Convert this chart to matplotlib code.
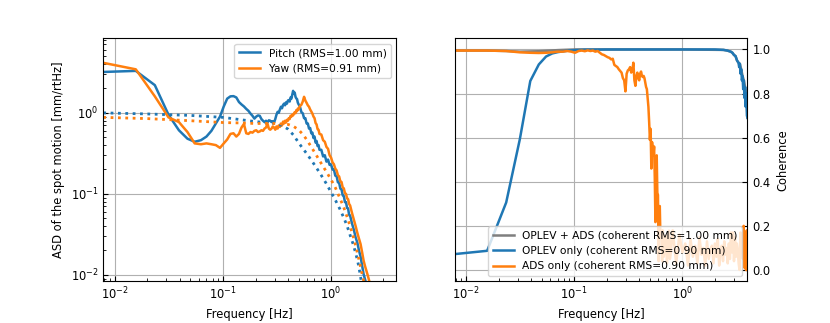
import matplotlib
matplotlib.use("Agg")
import matplotlib.pyplot as plt

# --- ASD of the spot motion (left panel) ---
freq_asd = [0.0078, 0.0156, 0.0234, 0.0313, 0.0391, 0.0469, 0.0547, 0.0625, 0.0703, 0.0781, 0.0859, 0.0938,
            0.1016, 0.1094, 0.1172, 0.125, 0.1328, 0.1406, 0.1484, 0.1563, 0.1641, 0.1719, 0.1797, 0.1875,
            0.1953, 0.2031, 0.2109, 0.2188, 0.2266, 0.2344, 0.2422, 0.25,
            0.2578, 0.2656, 0.2734, 0.2813, 0.2891, 0.2969, 0.3047, 0.3125, 0.3203, 0.3281, 0.3359, 0.3438,
            0.3516, 0.3594, 0.3672, 0.375,
            0.3828, 0.3906, 0.3984, 0.4063, 0.4141, 0.4219, 0.4297, 0.4375, 0.4453, 0.4531, 0.4609, 0.4688,
            0.4766, 0.4844, 0.4922, 0.5,
            0.5156, 0.5313, 0.5469, 0.5625, 0.5781, 0.5938, 0.6094, 0.625, 0.6406, 0.6563, 0.6719, 0.6875,
            0.7031, 0.7188, 0.7344, 0.75,
            0.7656, 0.7813, 0.8125, 0.8438, 0.875, 0.9063, 0.9375, 0.9688, 1.0, 1.0313, 1.0625, 1.0938,
            1.125, 1.1563, 1.1875, 1.2188,
            1.25, 1.2813, 1.3125, 1.3438, 1.375, 1.4063, 1.4375, 1.4688, 1.5, 1.5625, 1.625, 1.6875,
            1.75, 1.8125, 1.875, 1.9375,
            2.0, 2.0625, 2.125, 2.1875, 2.25, 2.3125]

pitch_asd = [3.2, 3.3, 2.2, 0.95, 0.61, 0.48, 0.44, 0.46, 0.51, 0.60, 0.74, 0.90,
             1.20, 1.50, 1.60, 1.61, 1.55, 1.36, 1.27, 1.20, 1.12, 1.06, 0.98, 0.92,
             0.85, 0.90, 0.93, 0.92, 0.84, 0.80, 0.77, 0.80,
             0.76, 0.81, 0.80, 0.77, 0.79, 0.76, 0.84, 0.95, 1.03, 1.00, 1.10, 1.19,
             1.14, 1.25, 1.30, 1.24,
             1.35, 1.30, 1.42, 1.44, 1.38, 1.55, 1.50, 1.68, 1.87, 1.72, 1.78, 1.58,
             1.51, 1.48, 1.34, 1.28,
             1.19, 1.02, 0.99, 0.86, 0.86, 0.74, 0.74, 0.64, 0.65, 0.56, 0.57, 0.49,
             0.51, 0.43, 0.45, 0.39,
             0.40, 0.35, 0.35, 0.29, 0.30, 0.25, 0.265, 0.228, 0.23, 0.20, 0.20, 0.168,
             0.166, 0.139, 0.137, 0.116,
             0.114, 0.096, 0.094, 0.079, 0.079, 0.067, 0.066, 0.055, 0.054, 0.043, 0.036, 0.029,
             0.025, 0.020, 0.0168, 0.013,
             0.0102, 0.0088, 0.0076, 0.0066, 0.0058, 0.0050]

yaw_asd = [4.15, 3.45, 1.6, 0.88, 0.77, 0.58, 0.42, 0.41, 0.42, 0.41, 0.40, 0.37,
           0.42, 0.47, 0.55, 0.56, 0.51, 0.55, 0.66, 0.73, 0.56, 0.55, 0.58, 0.57,
           0.60, 0.61, 0.58, 0.59, 0.61, 0.60, 0.64, 0.66,
           0.74, 0.64, 0.62, 0.64, 0.68, 0.66, 0.62, 0.68, 0.64, 0.70, 0.67, 0.72,
           0.70, 0.78, 0.74, 0.80,
           0.76, 0.82, 0.80, 0.86, 0.84, 0.92, 0.90, 0.95, 0.93, 0.98, 1.02, 0.99,
           1.08, 1.05, 1.13, 1.10,
           1.22, 1.26, 1.38, 1.58, 1.42, 1.33, 1.24, 1.19, 1.10, 1.04, 0.98, 0.90,
           0.86, 0.75, 0.72, 0.63,
           0.62, 0.55, 0.54, 0.46, 0.44, 0.38, 0.36, 0.30, 0.28, 0.245, 0.232, 0.205,
           0.195, 0.17, 0.164, 0.142,
           0.14, 0.12, 0.117, 0.102, 0.10, 0.088, 0.086, 0.075, 0.072, 0.058, 0.048, 0.040,
           0.033, 0.028, 0.024, 0.019,
           0.015, 0.0128, 0.0112, 0.0098, 0.0085, 0.0075]

freq_model = [0.0078, 0.02, 0.05, 0.1, 0.15, 0.2, 0.25, 0.3, 0.35, 0.4, 0.45, 0.5, 0.55, 0.6,
              0.7, 0.8, 0.9, 1.0, 1.1, 1.2, 1.3, 1.4, 1.5, 1.6, 1.7, 1.8, 1.9, 2.0, 2.1]
pitch_model = [1.0, 0.97, 0.93, 0.88, 0.82, 0.78, 0.76, 0.74, 0.70, 0.63, 0.53, 0.43, 0.36, 0.31,
               0.23, 0.175, 0.135, 0.105, 0.083, 0.066, 0.052, 0.041, 0.031, 0.024, 0.018, 0.013,
               0.0085, 0.006, 0.0045]
yaw_model = [0.88, 0.85, 0.80, 0.76, 0.75, 0.74, 0.74, 0.74, 0.73, 0.72, 0.68, 0.62, 0.54, 0.46,
             0.33, 0.245, 0.19, 0.15, 0.118, 0.09, 0.07, 0.053, 0.04, 0.03, 0.022, 0.016,
             0.0115, 0.0085, 0.0065]

# --- coherence (right panel) ---
freq_both = [0.0078, 0.0156, 0.0234, 0.0313, 0.0469, 0.0703, 0.1016, 0.2, 1.0, 2.4, 2.6, 2.8, 2.9,
             3.0, 3.1, 3.2, 3.3, 3.4, 3.5, 3.6, 3.7, 3.8, 3.9, 4.0]
coh_both = [0.995, 0.995, 0.993, 0.99, 0.992, 0.997, 1.0, 1.0, 1.0, 0.998, 0.995, 0.99, 0.985,
            0.975, 0.97, 0.95, 0.94, 0.935, 0.91, 0.88, 0.86, 0.83, 0.80, 0.69]

freq_oplev = [0.0078, 0.0156, 0.0234, 0.0313, 0.0391, 0.0469, 0.0547, 0.0625, 0.0703, 0.0859,
              0.1016, 0.125, 0.2, 0.5, 1.0, 2.0, 2.4, 2.6, 2.8, 2.9, 3.0, 3.1, 3.2, 3.3, 3.35,
              3.4, 3.45, 3.5, 3.55, 3.6, 3.65, 3.7, 3.75, 3.8, 3.85, 3.9, 3.95, 4.0]
coh_oplev = [0.072, 0.087, 0.306, 0.593, 0.857, 0.932, 0.968, 0.982, 0.988, 0.994,
             0.997, 0.999, 1.0, 1.0, 1.0, 1.0, 0.998, 0.995, 0.99, 0.985, 0.975, 0.97, 0.95, 0.94,
             0.92, 0.935, 0.89, 0.91, 0.86, 0.88, 0.82, 0.86, 0.78, 0.83, 0.74, 0.80, 0.70, 0.69]

freq_ads = [0.0078, 0.0156, 0.0234, 0.0313, 0.0391, 0.0469, 0.0547, 0.0625, 0.0703, 0.0781, 0.0859,
            0.0938, 0.1016, 0.1094, 0.1172, 0.125, 0.1328, 0.1406, 0.1484, 0.1563, 0.1641, 0.1719,
            0.1797, 0.1875, 0.1953, 0.2031, 0.2109, 0.2188, 0.2266, 0.2344, 0.2422, 0.25, 0.2578,
            0.2656, 0.2734, 0.2813, 0.2891, 0.2969, 0.3047, 0.3125, 0.3203, 0.3281, 0.3359, 0.3438,
            0.3516, 0.3594, 0.3672, 0.375, 0.3828, 0.3906, 0.3984, 0.4063, 0.4141, 0.4219, 0.4297,
            0.4375, 0.4453, 0.4531, 0.4609, 0.4688, 0.4766, 0.4844, 0.4922, 0.5, 0.5078, 0.5156,
            0.5234, 0.5313, 0.5391, 0.5469, 0.5547, 0.5625, 0.5703, 0.5781, 0.5859, 0.5938, 0.6016,
            0.6094, 0.6172, 0.625, 0.6328, 0.6406, 0.6484, 0.6563, 0.6641, 0.6719, 0.6875, 0.7031,
            0.7188, 0.7344, 0.75, 0.7656, 0.7813,
            0.8125, 0.875, 0.9375, 1.0, 1.0625, 1.125, 1.1875, 1.25, 1.3125, 1.375, 1.4375, 1.5,
            1.5625, 1.625, 1.6875, 1.75, 1.8125, 1.875, 1.9375, 2.0, 2.0625, 2.125, 2.1875, 2.25,
            2.3125, 2.375, 2.4375, 2.5, 2.5625, 2.625, 2.6875, 2.75, 2.8125, 2.875, 2.9375, 3.0,
            3.0625, 3.125, 3.1875, 3.25, 3.3125, 3.375, 3.4375, 3.5, 3.5625, 3.625, 3.6875, 3.75,
            3.8125, 3.875, 3.9375, 4.0]
coh_ads = [0.995, 0.995, 0.993, 0.987, 0.985, 0.984, 0.985, 0.987, 0.99, 0.99, 0.993,
           0.99, 0.985, 0.993, 0.995, 0.992, 0.996, 0.993, 0.995, 0.99, 0.993, 0.985,
           0.978, 0.975, 0.97, 0.965, 0.962, 0.955, 0.958, 0.93, 0.925, 0.92, 0.91,
           0.902, 0.895, 0.87, 0.86, 0.81, 0.89, 0.905, 0.91, 0.92, 0.895, 0.905,
           0.94, 0.86, 0.835, 0.88, 0.895, 0.87, 0.86, 0.89, 0.90, 0.88, 0.875,
           0.88, 0.87, 0.85, 0.83, 0.82, 0.78, 0.74, 0.67, 0.59, 0.64, 0.46,
           0.58, 0.55, 0.52, 0.56, 0.42, 0.217, 0.47, 0.52, 0.35, 0.34, 0.04,
           0.19, 0.29, 0.16, 0.17, 0.155, 0.04, 0.18, 0.16, 0.06, 0.12, 0.155,
           0.03, 0.11, 0.178, 0.05, 0.08,
           0.18, 0.03, 0.16, 0.08, 0.12, 0.02, 0.14, 0.06, 0.11, 0.03, 0.15, 0.07,
           0.10, 0.02, 0.13, 0.05, 0.09, 0.11, 0.03, 0.12, 0.06, 0.14, 0.02, 0.08,
           0.11, 0.04, 0.13, 0.07, 0.10, 0.03, 0.12, 0.05, 0.17, 0.08, 0.17, 0.04,
           0.15, 0.06, 0.12, 0.09, 0.03, 0.0, 0.17, 0.08, 0.15, 0.05, 0.20, 0.01,
           0.15, 0.0, 0.18, 0.0]

XLIM = (1 / 128, 4)


def main():
    plt.rcParams["font.size"] = 8.3
    fig, (ax1, ax2) = plt.subplots(1, 2, figsize=(8.3, 3.23), dpi=100)
    fig.subplots_adjust(left=0.1245, right=0.9006, bottom=0.13, top=0.881, wspace=0.2)

    ax1.loglog(freq_asd, pitch_asd, color="tab:blue", lw=1.8, label="Pitch (RMS=1.00 mm)")
    ax1.loglog(freq_asd, yaw_asd, color="tab:orange", lw=1.8, label="Yaw (RMS=0.91 mm)")
    ax1.loglog(freq_model, pitch_model, color="tab:blue", lw=2, ls=":")
    ax1.loglog(freq_model, yaw_model, color="tab:orange", lw=2, ls=":")
    ax1.set_xlim(*XLIM)
    ax1.set_ylim(0.0084, 8.3)
    ax1.set_xlabel("Frequency [Hz]")
    ax1.set_ylabel("ASD of the spot motion [mm/rtHz]")
    ax1.grid(True)
    ax1.tick_params(which="both", direction="in")
    ax1.legend(loc="upper right", fontsize=7.7)

    ax2.semilogx(freq_both, coh_both, color="tab:gray", lw=1.8,
                 label="OPLEV + ADS (coherent RMS=1.00 mm)")
    ax2.semilogx(freq_oplev, coh_oplev, color="tab:blue", lw=1.8,
                 label="OPLEV only (coherent RMS=0.90 mm)")
    ax2.semilogx(freq_ads, coh_ads, color="tab:orange", lw=1.8,
                 label="ADS only (coherent RMS=0.90 mm)")
    ax2.set_xlim(*XLIM)
    ax2.set_ylim(-0.05, 1.05)
    ax2.set_xlabel("Frequency [Hz]")
    ax2.yaxis.tick_right()
    ax2.yaxis.set_label_position("right")
    ax2.set_ylabel("Coherence")
    ax2.grid(True)
    ax2.tick_params(which="both", direction="in")
    ax2.legend(loc="lower right", fontsize=7.7)

    fig.savefig("out.png", dpi=100)


if __name__ == "__main__":
    main()
